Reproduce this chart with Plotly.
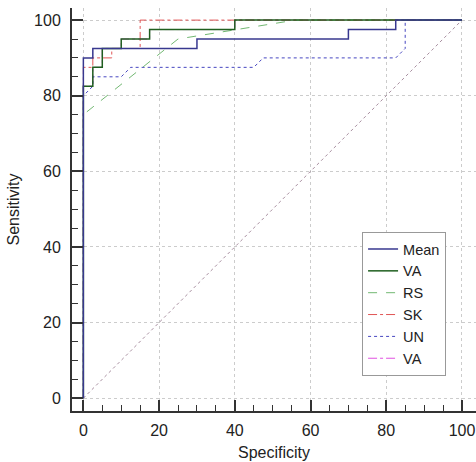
import plotly.graph_objects as go

# ROC curves (Specificity on x, Sensitivity on y)
mean_x = [0, 0, 2.5, 2.5, 30, 30, 70, 70, 82.5, 82.5, 100]
mean_y = [0, 90, 90, 92.5, 92.5, 95, 95, 97.5, 97.5, 100, 100]

va_x = [0, 0, 2.5, 2.5, 5, 5, 10, 10, 17.5, 17.5, 40, 40, 100]
va_y = [0, 82.5, 82.5, 87.5, 87.5, 92.5, 92.5, 95, 95, 97.5, 97.5, 100, 100]

rs_x = [0, 0, 25, 56, 100]
rs_y = [0, 75, 95, 100, 100]

sk_x = [0, 0, 2.5, 2.5, 7.5, 7.5, 15, 15, 100]
sk_y = [0, 87.5, 87.5, 90, 90, 92.5, 92.5, 100, 100]

un_x = [0, 0, 2.5, 2.5, 10, 12.5, 45, 47.5, 82.5, 85, 85, 100]
un_y = [0, 80, 82.5, 85, 85, 87.5, 87.5, 90, 90, 92.5, 100, 100]

va2_x = [0, 0, 2.5, 2.5, 5, 5, 10, 10, 17.5, 17.5, 40, 40, 100]
va2_y = [0, 82.5, 82.5, 87.5, 87.5, 92.5, 92.5, 95, 95, 97.5, 97.5, 100, 100]

ref_x = [0, 100]
ref_y = [0, 100]

tick_vals = [0, 20, 40, 60, 80, 100]

fig = go.Figure()

fig.add_trace(go.Scatter(x=ref_x, y=ref_y, mode="lines", showlegend=False,
                         line=dict(color="#a88fa0", width=1, dash="dot"), hoverinfo="skip"))
fig.add_trace(go.Scatter(x=va2_x, y=va2_y, mode="lines", name="VA", legendrank=6,
                         line=dict(color="#e050e0", width=1, dash="dashdot")))
fig.add_trace(go.Scatter(x=un_x, y=un_y, mode="lines", name="UN", legendrank=5,
                         line=dict(color="#4646c0", width=1, dash="dot")))
fig.add_trace(go.Scatter(x=rs_x, y=rs_y, mode="lines", name="RS", legendrank=3,
                         line=dict(color="#72b872", width=1, dash="dash")))
fig.add_trace(go.Scatter(x=sk_x, y=sk_y, mode="lines", name="SK", legendrank=4,
                         line=dict(color="#e05555", width=1, dash="dashdot")))
fig.add_trace(go.Scatter(x=va_x, y=va_y, mode="lines", name="VA", legendrank=2,
                         line=dict(color="#1f5f1f", width=1.5)))
fig.add_trace(go.Scatter(x=mean_x, y=mean_y, mode="lines", name="Mean", legendrank=1,
                         line=dict(color="#38388f", width=1.5)))

axis_common = dict(
    showline=True, linecolor="#333333", linewidth=2,
    ticks="inside", ticklen=11, tickwidth=2, tickcolor="#333333",
    tickvals=tick_vals,
    minor=dict(dtick=5, ticks="inside", ticklen=6, tickwidth=1, tickcolor="#333333", showgrid=False),
    showgrid=True, gridcolor="#cccccc", gridwidth=1, griddash="dot",
    zeroline=False,
    tickfont=dict(family="Liberation Sans, Arial, sans-serif", size=16, color="#222222"),
    title_font=dict(family="Liberation Sans, Arial, sans-serif", size=16, color="#222222"),
)

fig.update_xaxes(axis_common, range=[-3, 103.7], title_text="Specificity",
                 title_standoff=9, ticklabelstandoff=4)
fig.update_yaxes(axis_common, range=[-3.4, 103.2], title_text="Sensitivity",
                 title_standoff=10, ticklabelstandoff=6)

fig.update_layout(
    width=476, height=462,
    margin=dict(l=72, r=0, t=8, b=51),
    paper_bgcolor="white", plot_bgcolor="white",
    font=dict(family="Liberation Sans, Arial, sans-serif", size=16, color="#222222"),
    legend=dict(x=0.718, y=0.444, xanchor="left", yanchor="top",
                bgcolor="white", bordercolor="#999999", borderwidth=1,
                font=dict(size=14.5), tracegroupgap=0, itemwidth=30),
)

fig.write_html("out.html", config={"displayModeBar": False},
               post_script="document.body.style.margin='0';")
